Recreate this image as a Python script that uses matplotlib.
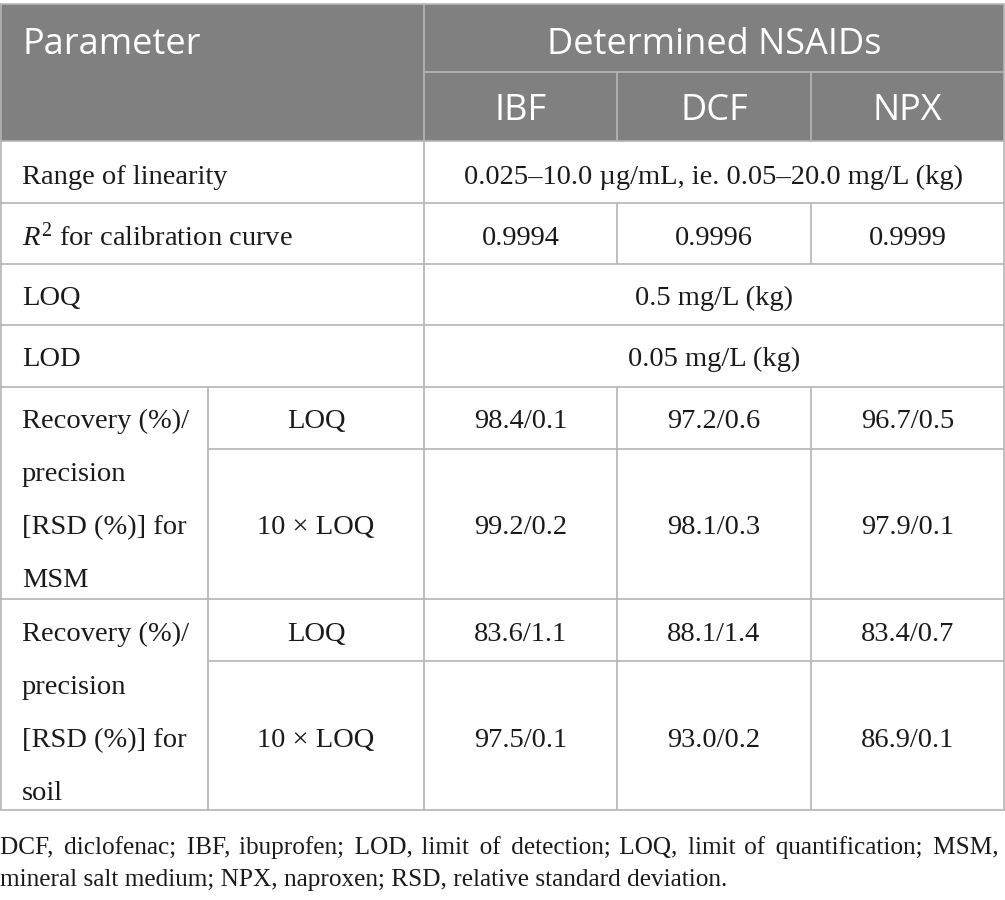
import matplotlib
matplotlib.use("Agg")
import matplotlib.pyplot as plt

# ---- data ----
header_param = "Parameter"
header_group = "Determined NSAIDs"
drugs = ["IBF", "DCF", "NPX"]
range_text = "0.025–10.0 µg/mL, ie. 0.05–20.0 mg/L (kg)"
r2_label = "$R^2$ for calibration curve"
r2_values = [0.9994, 0.9996, 0.9999]
loq_text = "0.5 mg/L (kg)"
lod_text = "0.05 mg/L (kg)"
levels = ["LOQ", "10 × LOQ"]
msm_label = ["Recovery (%)/", "precision", "[RSD (%)] for", "MSM"]
soil_label = ["Recovery (%)/", "precision", "[RSD (%)] for", "soil"]
msm_recovery = [[98.4, 97.2, 96.7], [99.2, 98.1, 97.9]]
msm_rsd = [[0.1, 0.6, 0.5], [0.2, 0.3, 0.1]]
soil_recovery = [[83.6, 88.1, 83.4], [97.5, 93.0, 86.9]]
soil_rsd = [[1.1, 1.4, 0.7], [0.1, 0.2, 0.1]]
footnote = ["DCF, diclofenac; IBF, ibuprofen; LOD, limit of detection; LOQ, limit of quantification; MSM,",
            "mineral salt medium; NPX, naproxen; RSD, relative standard deviation."]

plt.rcParams['mathtext.fontset'] = 'custom'
plt.rcParams['mathtext.rm'] = 'Liberation Serif'
plt.rcParams['mathtext.it'] = 'Liberation Serif:italic'

W, H = 1005, 900
fig = plt.figure(figsize=(W / 100, H / 100), dpi=100)
ax = fig.add_axes([0, 0, 1, 1])
ax.set_xlim(0, W)
ax.set_ylim(H, 0)
ax.axis('off')

# layout (pixels)
xL, xS, xD, x2, x3, xR = 1, 208, 424, 617, 811, 1004
yT, yH1, yHB = 4, 72, 141
hdr_col = '#808080'
line_col = '#b4b4b4'
lw = 1.2
dy = 3.5

SERIF = 'Liberation Serif'
SANS = 'Open Sans'
fs_body = 20.5
fs_head = 26
fs_foot = 18.2

ax.add_patch(plt.Rectangle((xL - 1, yT), xR - xL + 1, yHB - yT, color=hdr_col, lw=0))

def hline(y, x0, x1, c=line_col):
    ax.plot([x0, x1], [y, y], color=c, lw=lw, solid_capstyle='butt')

def vline(x, y0, y1, c=line_col):
    ax.plot([x, x], [y0, y1], color=c, lw=lw, solid_capstyle='butt')

hcol = '#b8b8b8'
hline(yT, xL - 1, xR + 1, hcol)
hline(yH1, xD, xR, hcol)
vline(x2, yH1, yHB, hcol)
vline(x3, yH1, yHB, hcol)
vline(xD, yT, yHB, hcol)

for y in [141, 203, 264, 325, 387, 599, 810]:
    hline(y, xL - 1, xR + 1)
for y in [449, 661]:
    hline(y, xS, xR)
vline(xL, yT, 810)
vline(xR, yT, 810)
vline(xD, yHB, 810)
vline(xS, 387, 810)
for x in (x2, x3):
    vline(x, 203, 264)
    vline(x, 387, 810)

def T(x, y, s, ha='center', fs=fs_body, fam=SERIF, color='#1a1a1a'):
    return ax.text(x, y + dy, s, ha=ha, va='center', fontsize=fs, family=fam, color=color)

# header
T(22, 41, header_param, ha='left', fs=fs_head, fam=SANS, color='white')
T((xD + xR) / 2, 41, header_group, fs=fs_head, fam=SANS, color='white')
centers = [(xD + x2) / 2, (x2 + x3) / 2, (x3 + xR) / 2]
for cx, d in zip(centers, drugs):
    T(cx, 107, d, fs=fs_head, fam=SANS, color='white')

mid = (xD + xR) / 2
T(22, 174, "Range of linearity", ha='left')
T(mid, 174, range_text)
T(22, 234, r2_label, ha='left')
for cx, v in zip(centers, r2_values):
    T(cx, 235, f"{v:.4f}")
T(22, 295, "LOQ", ha='left')
T(mid, 295, loq_text)
T(22, 356, "LOD", ha='left')
T(mid, 356, lod_text)

subc = (xS + xD) / 2
def block(y0, label, rec, rsd):
    for i, s in enumerate(label):
        T(22, y0 + i * 53, s, ha='left')
    ys = [y0, y0 + 106]
    for j, lev in enumerate(levels):
        T(subc, ys[j], lev)
        for cx, r, d in zip(centers, rec[j], rsd[j]):
            T(cx, ys[j], f"{r:.1f}/{d:.1f}")

block(418, msm_label, msm_recovery, msm_rsd)
block(631, soil_label, soil_recovery, soil_rsd)

# footnote: first line widened (justified) with extra narrow spaces
renderer = fig.canvas.get_renderer()
fam_foot = [SERIF, 'DejaVu Serif']

def width_of(s):
    t = ax.text(0, 0, s, fontsize=fs_foot, family=fam_foot)
    w = t.get_window_extent(renderer).width
    t.remove()
    return w

HS = '\u200a'
if width_of('a' + HS + 'b') - width_of('ab') < 0.5:
    HS = '\u2009'
parts = footnote[0].split(' ')
n_gaps = len(parts) - 1
extra = [0] * n_gaps

def build():
    out = ''
    for i, p in enumerate(parts):
        out += p
        if i < n_gaps:
            out += ' ' + HS * extra[i]
    return out

line1 = build()
w = width_of(line1)
k = 0
while w < 997 and k < 80:
    extra[(k * 5) % n_gaps] += 1
    k += 1
    cand = build()
    wc = width_of(cand)
    if wc > 1003:
        break
    line1, w = cand, wc

foot_base = [854, 886]
ax.text(0, foot_base[0], line1, ha='left', va='baseline', fontsize=fs_foot,
        family=fam_foot, color='#1a1a1a')
ax.text(0, foot_base[1], footnote[1], ha='left', va='baseline', fontsize=fs_foot,
        family=fam_foot, color='#1a1a1a')

fig.savefig('out.png', dpi=100)
